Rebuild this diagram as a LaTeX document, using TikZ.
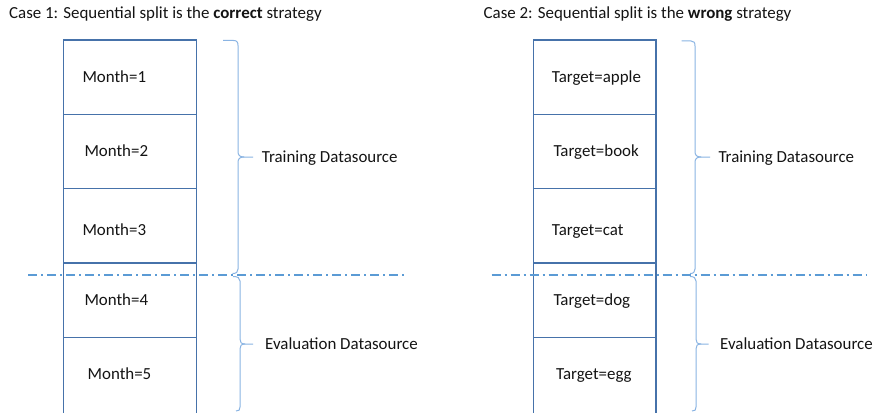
\documentclass[tikz,border=0pt]{standalone}
\usepackage{fontspec}
\setmainfont{Carlito}
\definecolor{boxline}{HTML}{4672AA}
\definecolor{bracec}{HTML}{8AB4E3}
\definecolor{dashc}{HTML}{5B9BD5}
\definecolor{txt}{HTML}{141414}
\begin{document}
\begin{tikzpicture}[x=1pt,y=-1pt,
  cell/.style={draw=boxline, line width=1.1pt, inner sep=0pt, outer sep=0pt, anchor=north west},
  lbl/.style={text=txt, inner sep=0pt, anchor=base west, font=\fontsize{16.9}{20}\selectfont},
  bracestyle/.style={draw=bracec, line width=1pt},
  splitline/.style={draw=dashc, line width=1.3pt, dash pattern=on 9pt off 4pt on 2pt off 4pt}
]
\useasboundingbox[fill=white] (0,0) rectangle (874,412);

% titles
\node[lbl] (title1) at (9,19) {Case 1: Sequential split is the \textbf{correct} strategy};
\node[lbl] (title2) at (483.5,19) {Case 2: Sequential split is the \textbf{wrong} strategy};

% left column cells
\node[cell, minimum width=133pt, minimum height=74.5pt] (l1) at (63.3,40) {};
\node[cell, minimum width=133pt, minimum height=74pt] (l2) at (63.3,114.5) {};
\node[cell, minimum width=133pt, minimum height=74.5pt] (l3) at (63.3,188.5) {};
\node[cell, minimum width=133pt, minimum height=74.3pt] (l4) at (63.3,263) {};
\node[cell, minimum width=133pt, minimum height=78pt] (l5) at (63.3,337.3) {};

% right column cells
\node[cell, minimum width=122.3pt, minimum height=74.5pt] (r1) at (533.7,40) {};
\node[cell, minimum width=122.3pt, minimum height=74pt] (r2) at (533.7,114.5) {};
\node[cell, minimum width=122.3pt, minimum height=74.5pt] (r3) at (533.7,188.5) {};
\node[cell, minimum width=122.3pt, minimum height=74.3pt] (r4) at (533.7,263) {};
\node[cell, minimum width=122.3pt, minimum height=78pt] (r5) at (533.7,337.3) {};

% cell labels
\node[lbl] (m1) at (82.3,82.7) {Month=1};
\node[lbl] (m2) at (84.3,156.2) {Month=2};
\node[lbl] (m3) at (82.3,235.2) {Month=3};
\node[lbl] (m4) at (84.3,305.7) {Month=4};
\node[lbl] (m5) at (87.5,379.2) {Month=5};

\node[lbl] (ta) at (551.7,82.7) {Target=apple};
\node[lbl] (tb) at (553.3,156.2) {Target=book};
\node[lbl] (tc) at (551.7,235.2) {Target=cat};
\node[lbl] (td) at (553.3,305.7) {Target=dog};
\node[lbl] (te) at (556,379.7) {Target=egg};

% split lines
\draw[splitline] (28,275) -- (406,275);
\draw[splitline] (491.5,275) -- (866.5,275);

% left braces
\draw[bracestyle] (223,40.5) -- (233.5,40.5) .. controls (236.8,40.5) and (238,42) .. (238,45.5) -- (238,151.5)
  .. controls (238,155) and (239.5,157) .. (244,157) -- (253,157);
\draw[bracestyle] (244,157) .. controls (239.5,157) and (238,159) .. (238,162.5) -- (238,269)
  .. controls (238,272) and (236.5,273.5) .. (232.5,273.5);
\node[lbl] (trainL) at (261.7,162) {Training Datasource};

\draw[bracestyle] (233,276.5) .. controls (238,276.5) and (240,278) .. (240,281) -- (240,339)
  .. controls (240,342) and (241,344) .. (245,344) -- (253,344);
\draw[bracestyle] (245,344) .. controls (241,344) and (240,346) .. (240,349) -- (240,407)
  .. controls (240,410) and (239,411) .. (236,411);
\node[lbl] (evalL) at (265,349) {Evaluation Datasource};

% right braces
\draw[bracestyle] (681.7,41) -- (691,41) .. controls (694,41) and (695,42.5) .. (695,46) -- (695,151.5)
  .. controls (695,155) and (696.5,157) .. (701,157) -- (710,157);
\draw[bracestyle] (701,157) .. controls (696.5,157) and (695,159) .. (695,162.5) -- (695,269)
  .. controls (695,272) and (693.5,273.5) .. (690,273.5);
\node[lbl] (trainR) at (718.3,162) {Training Datasource};

\draw[bracestyle] (690,276.5) .. controls (694,276.5) and (696,278) .. (696,281) -- (696,339)
  .. controls (696,342) and (697,344) .. (701,344) -- (708.5,344);
\draw[bracestyle] (701,344) .. controls (697,344) and (696,346) .. (696,349) -- (696,407)
  .. controls (696,410) and (695,411) .. (692,411);
\node[lbl] (evalR) at (720,349) {Evaluation Datasource};
\end{tikzpicture}
\end{document}
